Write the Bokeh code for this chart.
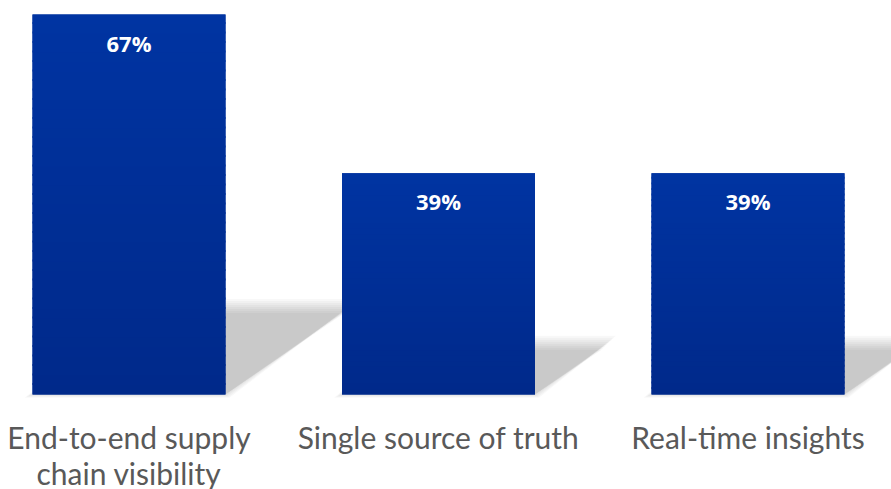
from bokeh.plotting import figure
from bokeh.models import Range1d, ColumnDataSource
from bokeh.core.properties import value
from bokeh.embed import file_html
from bokeh.resources import INLINE

categories = ["End-to-end supply\nchain visibility", "Single source of truth", "Real-time insights"]
values = [67, 39, 39]
value_labels = ["67%", "39%", "39%"]

W, H = 891, 489
x_pos = [0, 1, 2]
px_per_unit_x = 309.5
x_start = -128.5 / px_per_unit_x
x_end = x_start + W / px_per_unit_x
px_per_pct = 380 / 67.0
y_end = 67 + 14 / px_per_pct
y_start = -(H - 394) / px_per_pct

p = figure(width=W, height=H, output_backend="svg", toolbar_location=None,
           x_range=Range1d(x_start, x_end), y_range=Range1d(y_start, y_end),
           min_border=0, outline_line_color=None)
p.axis.visible = False
p.grid.visible = False
p.background_fill_color = "white"
p.border_fill_color = "white"

bw = 193 / px_per_unit_x

# shadows (blurred via layered translucent parallelograms)
n_layers = 8
for k in range(n_layers):
    grow = (n_layers - 1 - k) * 2.0 - 6.0  # px, centred blur
    xs_all, ys_all = [], []
    for x, v in zip(x_pos, values):
        L = 0.33 * v * px_per_pct / px_per_unit_x
        sh = 0.23 * v
        gx = grow / px_per_unit_x
        gy = grow / px_per_pct
        left = x - bw / 2
        right = x + bw / 2
        xs_all.append([left - gx, right + max(gx, 0) * 0.5, right + L + gx, left + L - gx])
        ys_all.append([0 - max(gy, 0) * 0.4, 0 - max(gy, 0) * 0.4, sh + gy, sh + gy])
    p.patches(xs_all, ys_all, fill_color="black", fill_alpha=0.028, line_color=None)

# bars with vertical gradient
top_rgb = (0x00, 0x34, 0xA2)
bot_rgb = (0x00, 0x29, 0x8A)
p.vbar(x=x_pos, top=values, bottom=0, width=bw, color="#002e95", line_color=None)
n_slices = 40
qs = dict(left=[], right=[], top=[], bottom=[], color=[])
for x, v in zip(x_pos, values):
    for i in range(n_slices):
        f0 = i / n_slices
        f1 = (i + 1) / n_slices
        t = (f0 + f1) / 2
        c = tuple(round(b + (a - b) * t) for a, b in zip(top_rgb, bot_rgb))
        qs["left"].append(x - bw / 2)
        qs["right"].append(x + bw / 2)
        qs["bottom"].append(v * f0)
        qs["top"].append(min(v, v * f1 + 0.35))
        qs["color"].append("#%02x%02x%02x" % c)
p.quad(left="left", right="right", top="top", bottom="bottom", color="color",
       line_color=None, source=ColumnDataSource(qs))

# value labels
p.text(x=x_pos, y=values, text=value_labels, text_color="white",
       text_font=value("Open Sans"), text_font_style="bold", text_font_size="22px",
       text_align="center", text_baseline="middle", y_offset=28)

# category labels (one text per line, 36 px apart)
lx, ly, lt, loff = [], [], [], []
for x, c in zip(x_pos, categories):
    for j, line in enumerate(c.split("\n")):
        lx.append(x)
        ly.append(0)
        lt.append(line)
        loff.append(24 + 36 * j)
p.text(x="x", y="y", text="t", y_offset="off", text_color="#595959",
       text_font=value("Lato"), text_font_size="30px",
       text_align="center", text_baseline="top",
       source=ColumnDataSource(dict(x=lx, y=ly, t=lt, off=loff)))

open("out.html", "w").write(file_html(p, INLINE))
